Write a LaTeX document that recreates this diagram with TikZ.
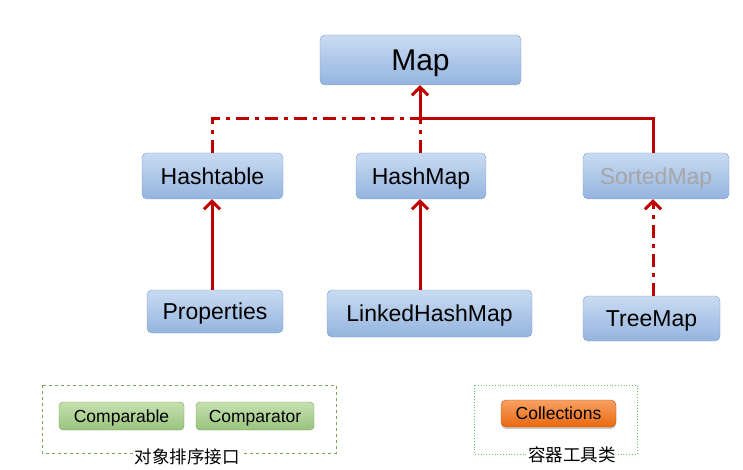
\documentclass[tikz,border=0pt]{standalone}
\usepackage{fontspec}
\setmainfont{Liberation Sans}
\newfontfamily\cjk{Noto Sans CJK SC}
\usetikzlibrary{calc, positioning}
\usetikzlibrary{arrows.meta}
\usetikzlibrary{shadows}

\definecolor{boxtop}{HTML}{C9DBF2}
\definecolor{boxbot}{HTML}{94B4DE}
\definecolor{boxline}{HTML}{7E9CCB}
\definecolor{linkred}{HTML}{C00000}
\definecolor{greentop}{HTML}{C5E0B0}
\definecolor{greenbot}{HTML}{98C47C}
\definecolor{greenline}{HTML}{78A058}
\definecolor{orangetop}{HTML}{F9A062}
\definecolor{orangebot}{HTML}{E8690F}

\tikzset{
  mapbox/.style={draw=boxline, rounded corners=5pt, top color=boxtop,
    bottom color=boxbot, inner sep=0pt, text height=16.5pt, text depth=0pt,
    font=\fontsize{23}{26}\selectfont},
  toolbox/.style={draw=greenline, rounded corners=4pt, top color=greentop,
    bottom color=greenbot, inner sep=0pt, text height=12.6pt, text depth=0pt,
    font=\fontsize{17.5}{20}\selectfont},
  inherit/.style={draw=linkred, line width=3pt},
  implement/.style={inherit, dash pattern=on 13pt off 6pt on 4pt off 6pt},
  uptip/.style={-{Straight Barb[length=8pt,width=16pt,line width=3pt]}}
}

\begin{document}
\begin{tikzpicture}[x=1pt,y=-1pt]
\useasboundingbox (0,0) rectangle (743,470);

% interfaces and classes
\node[mapbox, minimum width=201pt, minimum height=50pt, text height=21.5pt,
      font=\fontsize{30}{34}\selectfont] (map) at (420.5,60) {Map};
\node[mapbox, minimum width=141pt, minimum height=46pt] (hashtable) at (212.5,176) {Hashtable};
\node[mapbox, minimum width=130pt, minimum height=46pt] (hashmap) at (421,176) {HashMap};
\node[mapbox, minimum width=146pt, minimum height=46pt, text=black!35] (sortedmap) at (656,176) {SortedMap};
\node[mapbox, minimum width=136pt, minimum height=43pt] (properties) at (215,311.5) {Properties};
\node[mapbox, minimum width=205pt, minimum height=47pt] (linkedhashmap) at (429.5,313.5) {LinkedHashMap};
\node[mapbox, minimum width=137pt, minimum height=45pt] (treemap) at (651.5,318.5) {TreeMap};

% connectors
\coordinate (join) at (420,119);
\coordinate (htop) at (212,153);
\coordinate (stop) at (653,153);
\draw[implement] (htop) |- (join);
\draw[implement] (hashmap.north -| join) -- (join);
\draw[inherit, uptip] (join) -- (map.south -| join);
\draw[inherit] (join) -| (stop);
\draw[inherit, uptip] (properties.north -| htop) -- (hashtable.south -| htop);
\draw[inherit, uptip] (linkedhashmap.north -| join) -- (hashmap.south -| join);
\draw[implement, uptip] (treemap.north -| stop) -- (sortedmap.south -| stop);

% comparison interfaces
\draw[greenline, dashed, line width=0.8pt] (42,385) rectangle (336,453);
\node[toolbox, minimum width=125pt, minimum height=28pt] (comparable) at (121.5,416) {Comparable};
\node[toolbox, minimum width=118pt, minimum height=28pt] (comparator) at (255,416) {Comparator};
\node[fill=white, inner sep=1pt, font=\cjk\fontsize{17.5}{20}\selectfont] (sortlabel) at (187,457) {对象排序接口};

% utility class
\draw[green!60!black!60, dotted, line width=0.8pt] (474,385) rectangle (637,454);
\node[draw=orangebot!80!black, rounded corners=5pt, top color=orangetop, bottom color=orangebot,
      drop shadow={shadow xshift=0pt, shadow yshift=-2pt, opacity=0.4},
      minimum width=115pt, minimum height=27pt, inner sep=0pt,
      text height=12.6pt, text depth=0pt,
      font=\fontsize{17.5}{20}\selectfont] (collections) at (558.5,413.5) {Collections};
\node[fill=white, inner sep=1pt, font=\cjk\fontsize{17.5}{20}\selectfont] (toollabel) at (572,455) {容器工具类};
\end{tikzpicture}
\end{document}
